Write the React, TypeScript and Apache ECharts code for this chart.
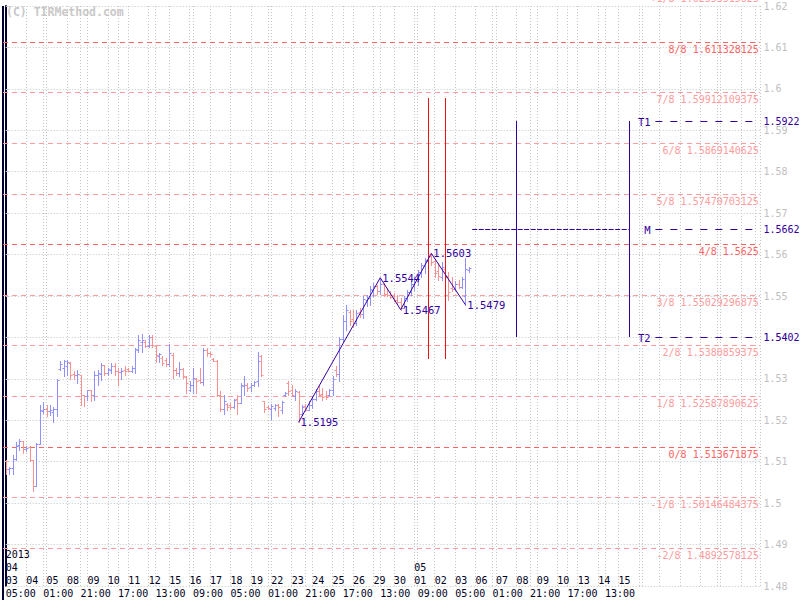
import React, { useEffect, useRef } from 'react';
import * as echarts from 'echarts';

// ---------- data ----------
const dayLabels = [
  '03', '04', '05', '08', '09', '10', '11', '12', '15', '16', '17', '18', '19',
  '22', '23', '24', '25', '26', '29', '30', '01', '02', '03', '06', '07', '08', '09', '10',
  '13', '14', '15',
];
// year / month headers shown above a day label (index into dayLabels)
const monthHeaderIndex = [0, 20];
const monthHeaderText = ['2013\n04', '05'];
const timeLabels = [
  '05:00', '01:00', '21:00', '17:00', '13:00', '09:00', '05:00', '01:00', '21:00',
  '17:00', '13:00', '09:00', '05:00', '01:00', '21:00', '17:00', '13:00',
];

const opens = [
  1.5102, 1.5082, 1.5086, 1.5106, 1.5140, 1.5150, 1.5130, 1.5135, 1.5103, 1.5042,
  1.5142, 1.5222, 1.5228, 1.5222, 1.5220, 1.5228, 1.5324, 1.5326, 1.5330, 1.5338,
  1.5312, 1.5310, 1.5310, 1.5260, 1.5258, 1.5272, 1.5260, 1.5310, 1.5312, 1.5334,
  1.5314, 1.5322, 1.5330, 1.5320, 1.5316, 1.5322, 1.5324, 1.5320, 1.5326, 1.5370,
  1.5390, 1.5390, 1.5380, 1.5402, 1.5380, 1.5356, 1.5350, 1.5346, 1.5336, 1.5358,
  1.5322, 1.5314, 1.5324, 1.5304, 1.5272, 1.5286, 1.5300, 1.5298, 1.5292, 1.5370,
  1.5362, 1.5348, 1.5344, 1.5260, 1.5228, 1.5240, 1.5238, 1.5232, 1.5252, 1.5242,
  1.5282, 1.5286, 1.5280, 1.5286, 1.5294, 1.5354, 1.5246, 1.5232, 1.5228, 1.5230,
  1.5238, 1.5226, 1.5260, 1.5290, 1.5272, 1.5258, 1.5268, 1.5214, 1.5234, 1.5226,
  1.5238, 1.5252, 1.5270, 1.5264, 1.5258, 1.5260, 1.5272, 1.5322, 1.5312, 1.5396,
  1.5440, 1.5462, 1.5444, 1.5436, 1.5462, 1.5456, 1.5490, 1.5494, 1.5514, 1.5524,
  1.5512, 1.5528, 1.5506, 1.5502, 1.5500, 1.5490, 1.5486, 1.5472, 1.5494, 1.5510,
  1.5528, 1.5542, 1.5558, 1.5572, 1.5584, 1.5596, 1.5584, 1.5560, 1.5546, 1.5566,
  1.5548, 1.5520, 1.5516, 1.5530, 1.5522, 1.5500, 1.5562,
];
const highs = [
  1.5105, 1.5087, 1.5115, 1.5147, 1.5156, 1.5151, 1.5138, 1.5138, 1.5105, 1.5144,
  1.5236, 1.5244, 1.5236, 1.5236, 1.5232, 1.5300, 1.5342, 1.5346, 1.5346, 1.5340,
  1.5320, 1.5322, 1.5310, 1.5262, 1.5274, 1.5274, 1.5320, 1.5322, 1.5338, 1.5334,
  1.5326, 1.5338, 1.5338, 1.5326, 1.5326, 1.5330, 1.5326, 1.5330, 1.5374, 1.5406,
  1.5408, 1.5394, 1.5406, 1.5406, 1.5382, 1.5362, 1.5354, 1.5350, 1.5384, 1.5362,
  1.5326, 1.5340, 1.5326, 1.5306, 1.5294, 1.5326, 1.5302, 1.5326, 1.5374, 1.5374,
  1.5366, 1.5350, 1.5346, 1.5270, 1.5260, 1.5242, 1.5242, 1.5252, 1.5262, 1.5290,
  1.5306, 1.5290, 1.5290, 1.5294, 1.5366, 1.5358, 1.5246, 1.5234, 1.5240, 1.5240,
  1.5240, 1.5246, 1.5268, 1.5294, 1.5286, 1.5276, 1.5270, 1.5236, 1.5240, 1.5246,
  1.5258, 1.5276, 1.5282, 1.5278, 1.5270, 1.5276, 1.5306, 1.5330, 1.5402, 1.5454,
  1.5479, 1.5466, 1.5466, 1.5466, 1.5470, 1.5499, 1.5503, 1.5523, 1.5531, 1.5527,
  1.5544, 1.5531, 1.5519, 1.5511, 1.5507, 1.5503, 1.5495, 1.5499, 1.5515, 1.5535,
  1.5547, 1.5563, 1.5579, 1.5591, 1.5599, 1.5603, 1.5587, 1.5579, 1.5583, 1.5567,
  1.5559, 1.5547, 1.5535, 1.5539, 1.5547, 1.5591, 1.5571,
];
const lows = [
  1.5071, 1.5071, 1.5071, 1.5104, 1.5128, 1.5122, 1.5126, 1.5102, 1.5030, 1.5042,
  1.5142, 1.5218, 1.5210, 1.5212, 1.5196, 1.5210, 1.5322, 1.5306, 1.5310, 1.5300,
  1.5300, 1.5290, 1.5236, 1.5234, 1.5250, 1.5246, 1.5250, 1.5286, 1.5298, 1.5310,
  1.5310, 1.5314, 1.5310, 1.5286, 1.5300, 1.5310, 1.5318, 1.5316, 1.5314, 1.5364,
  1.5366, 1.5378, 1.5378, 1.5378, 1.5340, 1.5340, 1.5334, 1.5330, 1.5330, 1.5302,
  1.5310, 1.5306, 1.5302, 1.5266, 1.5270, 1.5266, 1.5266, 1.5290, 1.5286, 1.5356,
  1.5354, 1.5342, 1.5258, 1.5222, 1.5214, 1.5226, 1.5228, 1.5230, 1.5214, 1.5242,
  1.5260, 1.5270, 1.5270, 1.5282, 1.5282, 1.5306, 1.5220, 1.5228, 1.5204, 1.5224,
  1.5210, 1.5218, 1.5258, 1.5262, 1.5258, 1.5248, 1.5195, 1.5212, 1.5222, 1.5224,
  1.5230, 1.5248, 1.5258, 1.5250, 1.5252, 1.5258, 1.5262, 1.5306, 1.5296, 1.5392,
  1.5418, 1.5430, 1.5426, 1.5430, 1.5450, 1.5446, 1.5475, 1.5479, 1.5499, 1.5505,
  1.5505, 1.5499, 1.5499, 1.5495, 1.5487, 1.5483, 1.5467, 1.5470, 1.5487, 1.5503,
  1.5515, 1.5527, 1.5547, 1.5555, 1.5571, 1.5575, 1.5547, 1.5539, 1.5539, 1.5539,
  1.5491, 1.5511, 1.5515, 1.5519, 1.5519, 1.5479, 1.5559,
];
const closes = [
  1.5082, 1.5086, 1.5106, 1.5138, 1.5150, 1.5130, 1.5132, 1.5105, 1.5042, 1.5142,
  1.5226, 1.5228, 1.5222, 1.5226, 1.5228, 1.5298, 1.5336, 1.5342, 1.5340, 1.5310,
  1.5310, 1.5312, 1.5260, 1.5258, 1.5272, 1.5260, 1.5310, 1.5314, 1.5334, 1.5314,
  1.5324, 1.5330, 1.5318, 1.5316, 1.5320, 1.5318, 1.5320, 1.5326, 1.5372, 1.5394,
  1.5394, 1.5380, 1.5402, 1.5382, 1.5358, 1.5360, 1.5338, 1.5336, 1.5362, 1.5322,
  1.5314, 1.5324, 1.5306, 1.5290, 1.5286, 1.5302, 1.5294, 1.5292, 1.5370, 1.5362,
  1.5360, 1.5344, 1.5260, 1.5228, 1.5246, 1.5232, 1.5232, 1.5250, 1.5242, 1.5286,
  1.5286, 1.5278, 1.5284, 1.5292, 1.5344, 1.5310, 1.5228, 1.5230, 1.5234, 1.5238,
  1.5232, 1.5244, 1.5266, 1.5270, 1.5262, 1.5270, 1.5214, 1.5232, 1.5226, 1.5238,
  1.5252, 1.5270, 1.5262, 1.5256, 1.5256, 1.5272, 1.5300, 1.5312, 1.5396, 1.5440,
  1.5466, 1.5440, 1.5434, 1.5460, 1.5456, 1.5492, 1.5496, 1.5516, 1.5524, 1.5512,
  1.5530, 1.5506, 1.5502, 1.5498, 1.5490, 1.5486, 1.5472, 1.5494, 1.5510, 1.5528,
  1.5542, 1.5558, 1.5574, 1.5586, 1.5596, 1.5582, 1.5556, 1.5548, 1.5570, 1.5546,
  1.5510, 1.5516, 1.5530, 1.5522, 1.5540, 1.5566, 1.5568,
];

const levelValues = [
  1.62353515625, 1.611328125, 1.59912109375, 1.5869140625, 1.57470703125, 1.5625,
  1.55029296875, 1.5380859375, 1.52587890625, 1.513671875, 1.50146484375, 1.4892578125,
];
const levelNames = ['+1/8', '8/8', '7/8', '6/8', '5/8', '4/8', '3/8', '2/8', '1/8', '0/8', '-1/8', '-2/8'];
const strongLevels = ['8/8', '4/8', '0/8'];

const targetNames = ['T1', 'M', 'T2'];
const targetValues = [1.5922, 1.5662, 1.5402];

const zigIndex = [86, 110, 116, 125, 135];
const zigPrice = [1.5195, 1.5544, 1.5467, 1.5603, 1.5479];

const projIndex = [150, 183];
const mLineFrom = 137;
const redIndex = [124, 129];
const redTop = 1.5978;
const redBottom = 1.5347;

// ---------- styles ----------
const MONO = 'DejaVu Sans Mono';
const UP = '#9090ff';
const DOWN = '#ff9090';
const NAVY = '#3300a0';
const AXIS_DARK = '#000033';
const GRID_GRAY = '#c4c4c4';
const LEVEL_STRONG = '#ff6464';
const LEVEL_LIGHT = '#ff9c9c';

const X_MAX = 221.5;

function buildOption(): any {
  const ohlcData = opens.map((o, j) => [j, o, highs[j], lows[j], closes[j]]);
  const levelData = levelValues.map((v, i) => [i, v]);
  const targetData = targetValues.map((v, i) => [i, v]);
  const zigData = zigIndex.map((j, i) => [j, zigPrice[i]]);
  const vertData = [
    ...projIndex.map((j) => [j, targetValues[0], targetValues[2], 0]),
    ...redIndex.map((j) => [j, redTop, redBottom, 1]),
  ];

  const ohlcRender = (params: any, api: any) => {
    const j = api.value(0);
    const o = api.value(1);
    const h = api.value(2);
    const l = api.value(3);
    const c = api.value(4);
    const ph = api.coord([j, h]);
    const pl = api.coord([j, l]);
    const po = api.coord([j, o]);
    const pc = api.coord([j, c]);
    const px = Math.round(ph[0]) + 0.5;
    const color = c >= o ? UP : DOWN;
    const yo = Math.round(po[1]) + 0.5;
    const yc = Math.round(pc[1]) + 0.5;
    return {
      type: 'group',
      children: [
        {
          type: 'line',
          shape: { x1: px, y1: Math.round(ph[1]), x2: px, y2: Math.round(pl[1]) + 1 },
          style: { stroke: color, lineWidth: 1 },
        },
        {
          type: 'line',
          shape: { x1: px - 2, y1: yo, x2: px, y2: yo },
          style: { stroke: color, lineWidth: 1 },
        },
        {
          type: 'line',
          shape: { x1: px, y1: yc, x2: px + 2, y2: yc },
          style: { stroke: color, lineWidth: 1 },
        },
      ],
    };
  };

  const levelRender = (params: any, api: any) => {
    const cs = params.coordSys;
    const i = api.value(0);
    const v = api.value(1);
    const y = Math.round(api.coord([0, v])[1]) + 0.5;
    const name = levelNames[i];
    const color = strongLevels.includes(name) ? LEVEL_STRONG : LEVEL_LIGHT;
    return {
      type: 'group',
      children: [
        {
          type: 'line',
          shape: { x1: 3, y1: y, x2: cs.x + cs.width, y2: y },
          style: { stroke: color, lineWidth: 1, lineDash: [5, 4] },
        },
        {
          type: 'text',
          style: {
            text: name + ' ' + String(levelValues[i]),
            x: cs.x + cs.width - 1,
            y: y + 2,
            align: 'right',
            verticalAlign: 'top',
            fill: color,
            fontFamily: MONO,
            fontSize: 10,
          },
        },
      ],
    };
  };

  const targetRender = (params: any, api: any) => {
    const cs = params.coordSys;
    const i = api.value(0);
    const v = api.value(1);
    const y = Math.round(api.coord([0, v])[1]) + 0.5;
    const lineStart = api.coord([190.8, v])[0];
    const labelRight = api.coord([189.4, v])[0];
    const right = cs.x + cs.width;
    const children: any[] = [
      {
        type: 'line',
        shape: { x1: lineStart, y1: y, x2: right - 1, y2: y },
        style: { stroke: NAVY, lineWidth: 1, lineDash: [7, 8] },
      },
      {
        type: 'text',
        style: {
          text: targetNames[i],
          x: labelRight,
          y: y,
          align: 'right',
          verticalAlign: 'middle',
          fill: NAVY,
          fontFamily: MONO,
          fontSize: 10.5,
        },
      },
      {
        type: 'text',
        style: {
          text: targetValues[i].toFixed(4),
          x: right + 3.5,
          y: y,
          align: 'left',
          verticalAlign: 'middle',
          fill: NAVY,
          fontFamily: MONO,
          fontSize: 10,
        },
      },
    ];
    if (targetNames[i] === 'M') {
      const a = api.coord([mLineFrom, v]);
      const b = api.coord([projIndex[1], v]);
      children.push({
        type: 'line',
        shape: { x1: a[0], y1: y, x2: b[0], y2: y },
        style: { stroke: NAVY, lineWidth: 1, lineDash: [5, 1.5] },
      });
    }
    return { type: 'group', children };
  };

  const vertRender = (params: any, api: any) => {
    const j = api.value(0);
    const top = api.coord([j, api.value(1)]);
    const bot = api.coord([j, api.value(2)]);
    const isRed = api.value(3) === 1;
    const x = Math.round(top[0]) + 0.5;
    return {
      type: 'line',
      shape: { x1: x, y1: Math.round(top[1]), x2: x, y2: Math.round(bot[1]) },
      style: { stroke: isRed ? '#ee1111' : NAVY, lineWidth: 1 },
    };
  };

  const zigLabelRender = (params: any, api: any) => {
    const p = api.coord([api.value(0), api.value(1)]);
    return {
      type: 'text',
      style: {
        text: api.value(1).toFixed(4),
        x: p[0] + 2,
        y: p[1],
        align: 'left',
        verticalAlign: 'middle',
        fill: NAVY,
        fontFamily: MONO,
        fontSize: 10.5,
      },
    };
  };

  const tickIndex = (v: number, step: number) => {
    const k = Math.round(v / step);
    return Math.abs(v - k * step) < 1e-6 ? k : -1;
  };

  const baseX = {
    type: 'value',
    min: 0,
    max: X_MAX,
    position: 'bottom',
    axisLine: { show: false },
    axisTick: { show: false },
  };
  const labelBase = {
    show: true,
    align: 'left',
    lineHeight: 13,
    fontFamily: MONO,
    fontSize: 10,
    color: '#000022',
    showMinLabel: true,
    showMaxLabel: false,
  };

  return {
    animation: false,
    backgroundColor: '#ffffff',
    grid: { left: 5.7, right: 40.1, top: 6, bottom: 13, containLabel: false },
    xAxis: [
      {
        ...baseX,
        interval: 6,
        axisLabel: {
          ...labelBase,
          margin: 1,
          verticalAlign: 'bottom',
          formatter: (v: number) => {
            const k = tickIndex(v, 6);
            return k >= 0 && k < dayLabels.length ? dayLabels[k] : '';
          },
        },
        splitLine: { show: true, lineStyle: { color: GRID_GRAY, type: [1, 2], width: 1 } },
      },
      {
        ...baseX,
        interval: 11,
        axisLabel: {
          ...labelBase,
          margin: 1,
          verticalAlign: 'top',
          formatter: (v: number) => {
            const k = tickIndex(v, 11);
            return k >= 0 && k < timeLabels.length ? timeLabels[k] : '';
          },
        },
        splitLine: { show: true, lineStyle: { color: GRID_GRAY, type: [1, 2], width: 1 } },
      },
      {
        ...baseX,
        interval: 6,
        axisLabel: {
          ...labelBase,
          margin: -12,
          verticalAlign: 'bottom',
          formatter: (v: number) => {
            const k = tickIndex(v, 6);
            const m = monthHeaderIndex.indexOf(k);
            return m >= 0 ? monthHeaderText[m] : '';
          },
        },
        splitLine: { show: false },
      },
    ],
    yAxis: [
      {
        type: 'value',
        position: 'right',
        min: 1.48,
        max: 1.62,
        interval: 0.01,
        axisLine: { show: true, lineStyle: { color: AXIS_DARK, width: 2 } },
        axisTick: { show: true, length: 3, lineStyle: { color: GRID_GRAY } },
        axisLabel: {
          margin: 3.5,
          color: '#c0c0c0',
          fontFamily: MONO,
          fontSize: 10,
          formatter: (v: number) => String(Math.round(v * 100) / 100),
        },
        splitLine: { show: true, lineStyle: { color: GRID_GRAY, type: [1, 2], width: 1 } },
      },
    ],
    series: [
      {
        name: 'levels',
        type: 'custom',
        renderItem: levelRender,
        data: levelData,
        encode: { x: 0, y: 1 },
        clip: false,
        silent: true,
        z: 2,
      },
      {
        name: 'ohlc',
        type: 'custom',
        renderItem: ohlcRender,
        data: ohlcData,
        encode: { x: 0, y: [1, 2, 3, 4] },
        silent: true,
        z: 3,
      },
      {
        name: 'verticals',
        type: 'custom',
        renderItem: vertRender,
        data: vertData,
        encode: { x: 0, y: [1, 2] },
        silent: true,
        z: 4,
      },
      {
        name: 'zigzag',
        type: 'line',
        data: zigData,
        showSymbol: false,
        symbol: 'none',
        lineStyle: { color: NAVY, width: 1 },
        silent: true,
        z: 5,
      },
      {
        name: 'zigLabels',
        type: 'custom',
        renderItem: zigLabelRender,
        data: zigData,
        encode: { x: 0, y: 1 },
        silent: true,
        z: 6,
      },
      {
        name: 'targets',
        type: 'custom',
        renderItem: targetRender,
        data: targetData,
        encode: { x: 0, y: 1 },
        clip: false,
        silent: true,
        z: 6,
      },
    ],
    graphic: [
      {
        type: 'text',
        left: 6,
        top: 6,
        style: {
          text: '(C) TIRMethod.com',
          fill: '#c8c8c8',
          fontFamily: MONO,
          fontWeight: 'bold',
          fontSize: 11.5,
        },
      },
      {
        type: 'line',
        shape: { x1: 3, y1: 6, x2: 3, y2: 600 },
        style: { stroke: AXIS_DARK, lineWidth: 2 },
      },
    ],
  };
}

export default function App() {
  const ref = useRef<HTMLDivElement>(null);
  useEffect(() => {
    if (!ref.current) return;
    const chart = echarts.init(ref.current, null, { renderer: 'svg' });
    chart.setOption(buildOption());
    return () => {
      chart.dispose();
    };
  }, []);
  return (
    <div
      ref={ref}
      style={{ position: 'absolute', left: 0, top: 0, width: 800, height: 600, background: '#fff' }}
    />
  );
}
